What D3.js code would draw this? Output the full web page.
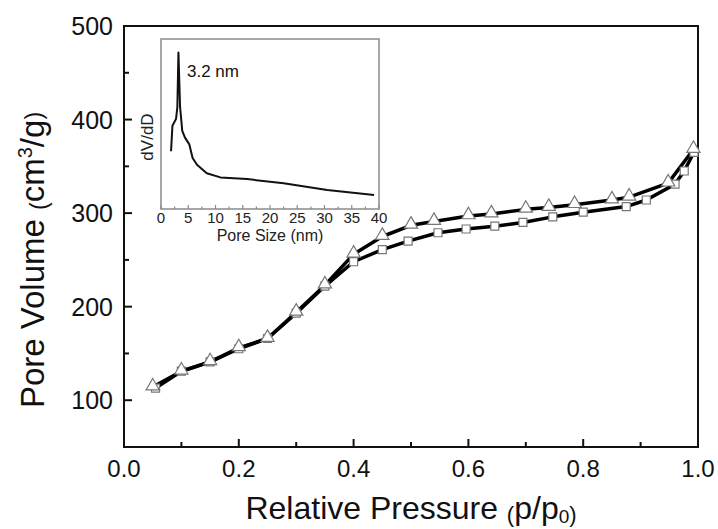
<!DOCTYPE html>
<html>
<head>
<meta charset="utf-8">
<script src="https://cdn.jsdelivr.net/npm/d3@7"></script>
<style>
html,body{margin:0;padding:0;background:#fff;}
svg{display:block;font-family:"Liberation Sans",Arial,sans-serif;}
</style>
</head>
<body>
<svg id="chart" width="718" height="529"></svg>
<script>
// ---- Data ----
const adsP = [0.05,0.10,0.15,0.20,0.25,0.30,0.35,0.40,0.45,0.50,0.54,0.60,0.64,0.70,0.74,0.785,0.85,0.88,0.948,0.992];
const adsV = [114,131,141,156,166,194,223,256,275,287,291,297,299,304,306,309,314,317,332,368];
const desP = [0.993,0.976,0.96,0.91,0.875,0.80,0.747,0.695,0.646,0.596,0.547,0.495,0.45,0.40,0.35,0.30,0.25,0.20,0.15,0.10,0.055];
const desV = [365,345,331,314,307,301,296,290,286,283,279,270,261,248,222,193,166,155,141,131,113];
const xTicks = [0.0,0.2,0.4,0.6,0.8,1.0];
const xMinor = [0.1,0.3,0.5,0.7,0.9];
const yTicks = [100,200,300,400,500];
const yMinor = [150,250,350,450];

const poreSize = [1.84,2.1,2.76,3.0,3.2,3.5,3.9,4.4,5.2,5.8,6.6,8.4,10.9,15.8,22.5,30.5,39.1];
const poreDv   = [34,49,53,60,92,60,46,42,38,30,26,21,18.6,17.6,15.1,11.2,8.3];
const insetTicks = [0,5,10,15,20,25,30,35,40];
const insetMinor = [2.5,7.5,12.5,17.5,22.5,27.5,32.5,37.5];

// ---- Layout ----
const svg = d3.select("#chart");
const L = 124, R = 698, T = 26, B = 447;
const x = d3.scaleLinear().domain([0,1]).range([L,R]);
const y = d3.scaleLinear().domain([50,500]).range([B,T]);

// frame
svg.append("rect").attr("x",L).attr("y",T).attr("width",R-L).attr("height",B-T)
  .attr("fill","none").attr("stroke","#111").attr("stroke-width",2);

// ticks (inward)
const g = svg.append("g");
xTicks.forEach(t=>g.append("line").attr("x1",x(t)).attr("x2",x(t)).attr("y1",B).attr("y2",B-8).attr("stroke","#111").attr("stroke-width",2));
xMinor.forEach(t=>g.append("line").attr("x1",x(t)).attr("x2",x(t)).attr("y1",B).attr("y2",B-5).attr("stroke","#111").attr("stroke-width",2));
yTicks.forEach(t=>g.append("line").attr("x1",L).attr("x2",L+8).attr("y1",y(t)).attr("y2",y(t)).attr("stroke","#111").attr("stroke-width",2));
yMinor.forEach(t=>g.append("line").attr("x1",L).attr("x2",L+5).attr("y1",y(t)).attr("y2",y(t)).attr("stroke","#111").attr("stroke-width",2));

// tick labels
xTicks.forEach(t=>svg.append("text").attr("x",x(t)).attr("y",477).attr("text-anchor","middle")
  .attr("font-size",24).attr("fill","#111").text(d3.format(".1f")(t)));
yTicks.forEach(t=>svg.append("text").attr("x",113).attr("y",y(t)).attr("dy","0.36em").attr("text-anchor","end")
  .attr("font-size",25).attr("fill","#111").text(t));

// axis titles
const xt = svg.append("text").attr("x",(L+R)/2).attr("y",519).attr("text-anchor","middle")
  .attr("font-size",32).attr("fill","#111");
xt.append("tspan").text("Relative Pressure ");
xt.append("tspan").attr("font-size",22).attr("dy",3).text("(");
xt.append("tspan").attr("dy",-3).text("p/p");
xt.append("tspan").attr("font-size",19).attr("dy",4).text("0");
xt.append("tspan").attr("font-size",22).attr("dy",-1).text(")");

const yt = svg.append("text").attr("transform","translate(44,260) rotate(-90)").attr("text-anchor","middle")
  .attr("font-size",33).attr("fill","#111");
yt.append("tspan").text("Pore Volume ");
yt.append("tspan").attr("font-size",23).attr("dy",3).text("(");
yt.append("tspan").attr("dy",-3).text("cm");
yt.append("tspan").attr("font-size",20).attr("dy",-12).text("3");
yt.append("tspan").attr("dy",12).text("/g");
yt.append("tspan").attr("font-size",23).attr("dy",-2).text(")");

// lines
const ads = adsP.map((p,i)=>[p,adsV[i]]);
const des = desP.map((p,i)=>[p,desV[i]]);
const line = d3.line().x(d=>x(d[0])).y(d=>y(d[1]));
svg.append("path").attr("d",line(des)).attr("fill","none").attr("stroke","#000").attr("stroke-width",3.5).attr("stroke-linejoin","round");
svg.append("path").attr("d",line(ads)).attr("fill","none").attr("stroke","#000").attr("stroke-width",3.5).attr("stroke-linejoin","round");

// markers
const sq = d3.symbol().type(d3.symbolSquare).size(64);
const tri = d3.symbol().type(d3.symbolTriangle).size(76);
svg.append("g").selectAll("path").data(des).join("path")
  .attr("d",sq).attr("transform",d=>`translate(${x(d[0])},${y(d[1])})`)
  .attr("fill","#fff").attr("stroke","#777").attr("stroke-width",1.2);
svg.append("g").selectAll("path").data(ads).join("path")
  .attr("d",tri).attr("transform",d=>`translate(${x(d[0])},${y(d[1])-1})`)
  .attr("fill","#fff").attr("stroke","#777").attr("stroke-width",1.2);

// ---- Inset ----
const iL = 161, iR = 379, iT = 39, iB = 209;
const ix = d3.scaleLinear().domain([0,40]).range([iL,iR]);
const iy = d3.scaleLinear().domain([0,100]).range([iB,iT]);
svg.append("rect").attr("x",iL).attr("y",iT).attr("width",iR-iL).attr("height",iB-iT)
  .attr("fill","#fff").attr("stroke","#8a8a8a").attr("stroke-width",1.5);
insetTicks.forEach(t=>svg.append("line").attr("x1",ix(t)).attr("x2",ix(t)).attr("y1",iB).attr("y2",iB-4).attr("stroke","#8a8a8a").attr("stroke-width",1.2));
insetMinor.forEach(t=>svg.append("line").attr("x1",ix(t)).attr("x2",ix(t)).attr("y1",iB).attr("y2",iB-2.5).attr("stroke","#8a8a8a").attr("stroke-width",1.2));
insetTicks.forEach(t=>svg.append("text").attr("x",ix(t)).attr("y",223).attr("text-anchor","middle")
  .attr("font-size",15).attr("fill","#222").text(t));
svg.append("text").attr("x",(iL+iR)/2).attr("y",241).attr("text-anchor","middle")
  .attr("font-size",16).attr("fill","#222").text("Pore Size (nm)");
svg.append("text").attr("transform","translate(153,137) rotate(-90)").attr("text-anchor","middle")
  .attr("font-size",17).attr("fill","#222").text("dV/dD");
const pore = poreSize.map((s,i)=>[s,poreDv[i]]);
svg.append("path").attr("d",d3.line().x(d=>ix(d[0])).y(d=>iy(d[1]))(pore))
  .attr("fill","none").attr("stroke","#111").attr("stroke-width",2).attr("stroke-linejoin","round");
svg.append("text").attr("x",187).attr("y",77).attr("font-size",17).attr("fill","#111").text("3.2 nm");
</script>
</body>
</html>
